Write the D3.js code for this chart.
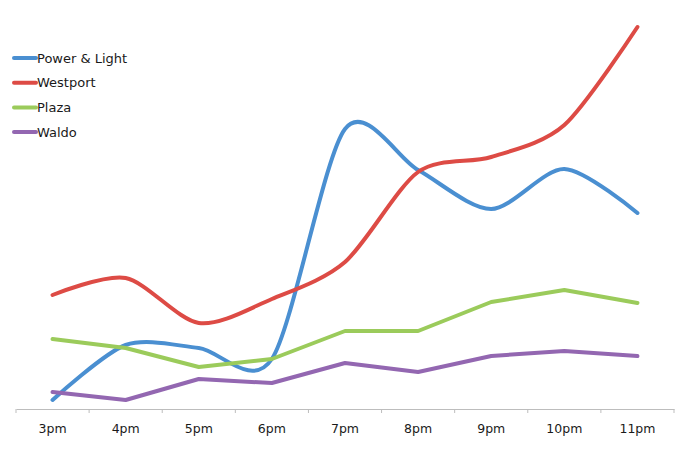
<!DOCTYPE html>
<html>
<head>
<meta charset="utf-8">
<script src="https://cdn.jsdelivr.net/npm/d3@7"></script>
<style>
  body { margin: 0; background: #fff; }
  text { font-family: "DejaVu Sans", sans-serif; fill: #1a1a1a; }
</style>
</head>
<body>
<svg id="chart" width="689" height="452"></svg>
<script>
var hours = ['3pm', '4pm', '5pm', '6pm', '7pm', '8pm', '9pm', '10pm', '11pm'];
var powerLight = [9, 64, 61, 50, 280, 239, 200, 240, 196];
var westport = [114, 131, 86, 110, 147, 237, 252, 284, 382];
var plaza = [70, 61, 42, 50, 78, 78, 107, 119, 106];
var waldo = [17, 9, 30, 26, 46, 37, 53, 58, 53];

var series = [
  { name: 'Power & Light', values: powerLight, color: '#4a8fd1', smooth: true },
  { name: 'Westport', values: westport, color: '#dd4b45', smooth: true },
  { name: 'Plaza', values: plaza, color: '#9bcb5b', smooth: false },
  { name: 'Waldo', values: waldo, color: '#9367b1', smooth: false }
];

var svg = d3.select('#chart');

var x = d3.scaleBand().domain(hours).range([16, 674]);
var y = d3.scaleLinear().domain([0, 400]).range([409, 9]);

// x axis
var axis = svg.append('g')
  .attr('transform', 'translate(0,409)')
  .call(d3.axisBottom(x).tickSize(0).tickPadding(15));
axis.select('.domain').attr('stroke', '#bdbdbd');
axis.selectAll('text').style('font-size', '12.5px').attr('font-family', null);

// tick marks sit between categories
svg.append('g').selectAll('line')
  .data(d3.range(hours.length + 1))
  .enter().append('line')
  .attr('x1', (i) => 16 + i * x.step())
  .attr('x2', (i) => 16 + i * x.step())
  .attr('y1', 409)
  .attr('y2', 413)
  .attr('stroke', '#bdbdbd');

var cx = (i) => x(hours[i]) + x.bandwidth() / 2;

series.forEach(function(s) {
  var line = d3.line()
    .x((d, i) => cx(i))
    .y((d) => y(d))
    .curve(s.smooth ? d3.curveCardinal.tension(0.15) : d3.curveLinear);
  svg.append('path')
    .datum(s.values)
    .attr('d', line)
    .attr('fill', 'none')
    .attr('stroke', s.color)
    .attr('stroke-width', 4)
    .attr('stroke-linecap', 'round')
    .attr('stroke-linejoin', 'round');
});

// legend
var legend = svg.append('g').selectAll('g')
  .data(series)
  .enter().append('g')
  .attr('transform', (d, i) => 'translate(0,' + (58 + i * 24.7) + ')');
legend.append('line')
  .attr('x1', 14).attr('x2', 36)
  .attr('stroke', (d) => d.color)
  .attr('stroke-width', 4)
  .attr('stroke-linecap', 'round');
legend.append('text')
  .attr('x', 37)
  .attr('dy', '0.35em')
  .style('font-size', '13px')
  .text((d) => d.name);
</script>
</body>
</html>
